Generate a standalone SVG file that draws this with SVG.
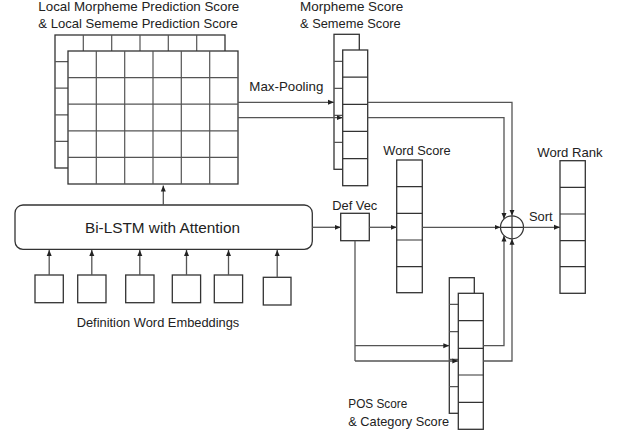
<svg xmlns="http://www.w3.org/2000/svg" width="625" height="437" viewBox="0 0 625 437">
<style>
  .box { fill: #fff; stroke: #333; stroke-width: 1.3; }
  .ln { fill: none; stroke: #333; stroke-width: 1.2; }
  .gl { fill: none; stroke: #555; stroke-width: 1.2; }
  .cn { fill: none; stroke: #555; stroke-width: 1.3; }
  .t { font-family: "Liberation Sans", Arial, sans-serif; font-size: 13px; fill: #222; }
  .big { font-size: 15.5px; }
</style>
<defs>
  <marker id="ah" markerWidth="6" markerHeight="6" refX="6" refY="3" orient="auto" markerUnits="userSpaceOnUse">
    <path d="M0,0.5 L6,3 L0,5.5 z" fill="#222"/>
  </marker>
</defs>

<g id="local-score-grid">
  <text class="t" x="38.3" y="10.7" textLength="201" lengthAdjust="spacingAndGlyphs">Local Morpheme Prediction Score</text>
  <text class="t" x="38.3" y="28.3" textLength="199.4" lengthAdjust="spacingAndGlyphs">&amp; Local Sememe Prediction Score</text>
  <rect class="box" x="55" y="35" width="170" height="133"/>
  <path class="gl" d="M83.3,35V168M111.7,35V168M140,35V168M168.3,35V168M196.7,35V168M55,61.6H225M55,88.2H225M55,114.8H225M55,141.4H225"/>
  <rect class="box" x="68" y="51" width="170" height="133"/>
  <path class="gl" d="M96.3,51V184M124.7,51V184M153,51V184M181.3,51V184M209.7,51V184M68,77.6H238M68,104.2H238M68,130.8H238M68,157.4H238"/>
</g>

<g id="morpheme-score">
  <text class="t" x="300" y="10.7" textLength="103.3" lengthAdjust="spacingAndGlyphs">Morpheme Score</text>
  <text class="t" x="300" y="28.3" textLength="100.7" lengthAdjust="spacingAndGlyphs">&amp; Sememe Score</text>
  <rect class="box" x="334" y="34.3" width="25.3" height="135"/>
  <path class="gl" d="M334,61.3H359.3M334,88.3H359.3M334,115.3H359.3M334,142.3H359.3"/>
  <rect class="box" x="342.7" y="50" width="25" height="135.7"/>
  <path class="ln" d="M342.7,77.1H367.7M342.7,104.3H367.7M342.7,131.4H367.7M342.7,158.6H367.7"/>
</g>

<g id="max-pooling-label">
  <text class="t" x="249.3" y="91" textLength="74" lengthAdjust="spacingAndGlyphs">Max-Pooling</text>
</g>

<g id="bilstm">
  <rect class="box" x="15" y="205" width="297.3" height="44.3" rx="8" ry="8"/>
  <text class="t big" x="162.5" y="233.3" text-anchor="middle" textLength="155" lengthAdjust="spacingAndGlyphs">Bi-LSTM with Attention</text>
</g>

<g id="embeddings">
  <rect class="box" x="35" y="275" width="28.3" height="27.7"/>
  <rect class="box" x="77.7" y="275" width="28.3" height="27.7"/>
  <rect class="box" x="125.7" y="275" width="28.3" height="27.7"/>
  <rect class="box" x="172.3" y="275" width="28.3" height="27.7"/>
  <rect class="box" x="214.3" y="275" width="28.3" height="27.7"/>
  <rect class="box" x="263.3" y="277.3" width="27.7" height="27.7"/>
  <text class="t" x="158" y="326.7" text-anchor="middle" textLength="162.6" lengthAdjust="spacingAndGlyphs">Definition Word Embeddings</text>
</g>

<g id="def-vec">
  <text class="t" x="332.3" y="210" textLength="45" lengthAdjust="spacingAndGlyphs">Def Vec</text>
  <rect class="box" x="340.7" y="213.3" width="28.6" height="27.4"/>
</g>

<g id="word-score">
  <text class="t" x="383.3" y="155" textLength="67.4" lengthAdjust="spacingAndGlyphs">Word Score</text>
  <rect class="box" x="396.7" y="160" width="25.6" height="132.7"/>
  <path class="ln" d="M396.7,186.7H422.3M396.7,213.3H422.3M396.7,240H422.3M396.7,266.7H422.3"/>
</g>

<g id="pos-score">
  <rect class="box" x="449.3" y="277.7" width="25" height="135.6"/>
  <path class="gl" d="M449.3,304.3H474.3M449.3,331.7H474.3M449.3,359.3H474.3M449.3,386.7H474.3"/>
  <rect class="box" x="458.3" y="293.3" width="25" height="136"/>
  <path class="ln" d="M458.3,320.7H483.3M458.3,348.3H483.3M458.3,375H483.3M458.3,402.3H483.3"/>
  <text class="t" x="348.3" y="408.3" textLength="59" lengthAdjust="spacingAndGlyphs">POS Score</text>
  <text class="t" x="348.3" y="426" textLength="100.7" lengthAdjust="spacingAndGlyphs">&amp; Category Score</text>
</g>

<g id="sort-junction">
  <circle cx="512" cy="227.3" r="11.5" fill="#fff" stroke="#333" stroke-width="1.2"/>
  <path class="ln" d="M500.5,227.3H523.5M512,215.8V238.8"/>
  <text class="t" x="529" y="220.7" textLength="23.7" lengthAdjust="spacingAndGlyphs">Sort</text>
</g>

<g id="word-rank">
  <text class="t" x="537.3" y="156.7" textLength="65.4" lengthAdjust="spacingAndGlyphs">Word Rank</text>
  <rect class="box" x="560" y="160.7" width="25.3" height="132.6"/>
  <path class="ln" d="M560,187.3H585.3M560,214H585.3M560,240.7H585.3M560,266.7H585.3"/>
</g>

<g id="connectors">
  <path class="cn" d="M163.3,205V185.5" marker-end="url(#ah)"/>
  <path class="cn" d="M49.2,275V250" marker-end="url(#ah)"/>
  <path class="cn" d="M91.8,275V250" marker-end="url(#ah)"/>
  <path class="cn" d="M139.8,275V250" marker-end="url(#ah)"/>
  <path class="cn" d="M186.5,275V250" marker-end="url(#ah)"/>
  <path class="cn" d="M228.5,275V250" marker-end="url(#ah)"/>
  <path class="cn" d="M277.2,277.3V250" marker-end="url(#ah)"/>
  <path class="cn" d="M238,102.3H334" marker-end="url(#ah)"/>
  <path class="cn" d="M238,117.7H342.7" marker-end="url(#ah)"/>
  <path class="cn" d="M367.7,102.3H512V215.8" marker-end="url(#ah)"/>
  <path class="cn" d="M367.7,117.7H504V219" marker-end="url(#ah)"/>
  <path class="cn" d="M312.3,227.3H340.7" marker-end="url(#ah)"/>
  <path class="cn" d="M369.3,227.3H396.7" marker-end="url(#ah)"/>
  <path class="cn" d="M422.3,227.3H500.5" marker-end="url(#ah)"/>
  <path class="cn" d="M523.5,227.3H560" marker-end="url(#ah)"/>
  <path class="cn" d="M355,240.7V361"/>
  <path class="cn" d="M355,345.7H449.3" marker-end="url(#ah)"/>
  <path class="cn" d="M355,361H458.3" marker-end="url(#ah)"/>
  <path class="cn" d="M483.3,345.7H504V235.6" marker-end="url(#ah)"/>
  <path class="cn" d="M483.3,361H512V238.8" marker-end="url(#ah)"/>
</g>
</svg>
